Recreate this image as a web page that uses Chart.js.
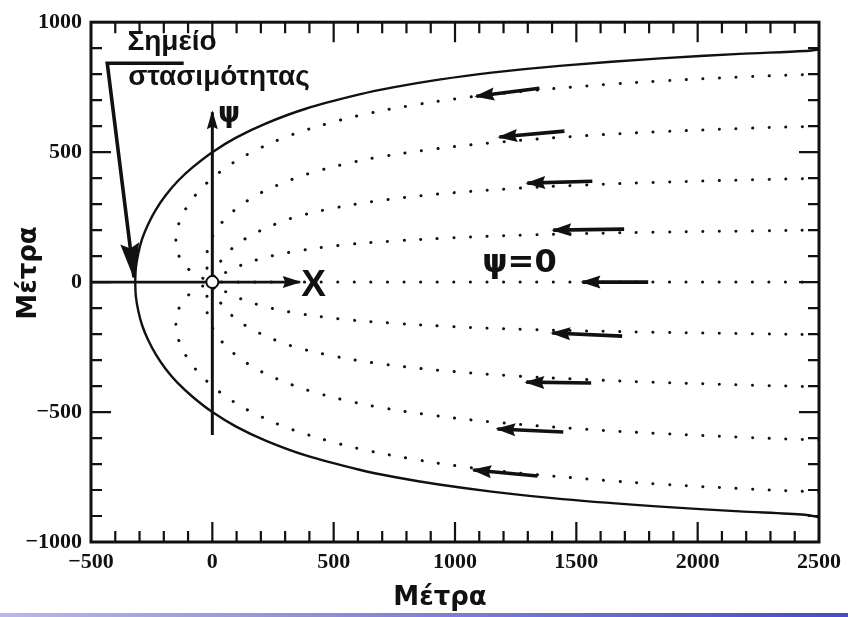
<!DOCTYPE html>
<html>
<head>
<meta charset="utf-8">
<script src="https://cdn.jsdelivr.net/npm/chart.js@4/dist/chart.umd.min.js"></script>
<style>
html,body{margin:0;padding:0;background:#fff;}
#wrap{position:relative;width:848px;height:617px;overflow:hidden;}
#footer{position:absolute;left:0;top:613px;width:848px;height:4px;background:linear-gradient(to right,#b8b8e8,#4a4ac4);}
</style>
</head>
<body>
<div id="wrap"><canvas id="c" width="848" height="617"></canvas><div id="footer"></div></div>
<script>
// ---------- tick labels ----------
const xTicks = [-500, 0, 500, 1000, 1500, 2000, 2500];
const yTicks = [-1000, -500, 0, 500, 1000];

// ---------- capture-zone boundary (solid) ----------
const boundUpX = [2500, 2442, 2173, 1847, 1443, 1151, 927, 750, 606, 385, 222, 98, 0, -78, -142, -193, -233, -265, -289, -305, -315, -318];
const boundUpY = [895, 889, 878, 861, 833, 806, 778, 750, 722, 667, 611, 556, 500, 444, 389, 333, 278, 222, 167, 111, 56, 0];
const boundLoX = [-318, -315, -305, -289, -265, -233, -193, -142, -78, 0, 98, 222, 385, 606, 750, 927, 1151, 1443, 1847, 2173, 2442, 2500];
const boundLoY = [0, -56, -111, -167, -222, -278, -333, -389, -444, -500, -556, -611, -667, -722, -750, -778, -806, -835, -864, -882, -895, -905];

// ---------- dotted streamlines (upper half) ----------
const s900X = [2500, 2167, 1871, 1632, 1270, 1008, 808, 650, 522, 327, 186, 80, 0, -61, -105, -135, -149, -146, -116, -83, -31, 0];
const s900Y = [800, 789, 775, 761, 733, 706, 678, 650, 622, 567, 511, 456, 400, 344, 289, 233, 178, 122, 67, 39, 11, 0];
const s675X = [2500, 2208, 1832, 1549, 1150, 880, 686, 540, 425, 333, 197, 104, 41, 0, -21, -23, -17, 0];
const s675Y = [600, 592, 578, 564, 536, 508, 481, 453, 425, 397, 342, 286, 231, 175, 119, 64, 36, 0];
const s450X = [2500, 2237, 1803, 1493, 1259, 931, 667, 491, 365, 272, 145, 67, 22, 0];
const s450Y = [399, 394, 383, 372, 361, 339, 311, 283, 256, 228, 172, 117, 61, 0];
const s225X = [2500, 2254, 1824, 1285, 961, 745, 529, 313, 185, 101, 44, 0];
const s225Y = [200, 197, 192, 181, 169, 158, 142, 114, 86, 58, 31, 0];
const s0X = [2500, 0];
const s0Y = [0, 0];
// ---------- dotted streamlines (lower half) ----------
const m225X = [2500, 2254, 1824, 1285, 961, 745, 529, 313, 185, 101, 44, 0];
const m225Y = [-203, -199, -193, -182, -170, -158, -142, -114, -86, -58, -31, 0];
const m450X = [2500, 2237, 1803, 1493, 1259, 931, 667, 491, 365, 272, 145, 67, 22, 0];
const m450Y = [-403, -397, -385, -373, -362, -339, -311, -283, -256, -228, -172, -117, -61, 0];
const m675X = [2500, 2208, 1832, 1549, 1150, 880, 686, 540, 425, 333, 197, 104, 41, 0, -21, -23, -17, 0];
const m675Y = [-608, -598, -582, -567, -538, -509, -481, -453, -425, -397, -342, -286, -231, -175, -119, -64, -36, 0];
const m900X = [2500, 2167, 1871, 1632, 1270, 1008, 808, 650, 522, 327, 186, 80, 0, -61, -105, -135, -149, -146, -116, -83, -31, 0];
const m900Y = [-808, -794, -779, -764, -735, -707, -678, -650, -622, -567, -511, -456, -400, -344, -289, -233, -178, -122, -67, -39, -11, 0];

// ---------- flow arrows (tail -> head) ----------
const arrowTailX = [1348, 1451, 1566, 1697, 1796, 1689, 1561, 1446, 1340];
const arrowTailY = [746, 581, 388, 204, 0, -208, -388, -577, -746];
const arrowHeadX = [1088, 1183, 1298, 1405, 1525, 1401, 1294, 1175, 1076];
const arrowHeadY = [715, 558, 381, 200, 0, -196, -385, -565, -723];

// ---------- axes of the local frame & pointer ----------
const psiAxisX = [0, 0];
const psiAxisY = [-588, 654];
const xAxisX = [-500, 360];
const xAxisY = [0, 0];
const pointerX = [-118, -433, -323];
const pointerY = [842, 842, 19];
const wellX = [0];
const wellY = [0];

// ---------- texts ----------
const noteLine1 = 'Σημείο';
const noteLine2 = 'στασιμότητας';
const psiZeroText = 'ψ=0';
const psiText = 'ψ';
const xText = 'X';
const axisTitle = 'Μέτρα';

const pts = (xs, ys) => xs.map((x, i) => ({x: x, y: ys[i]}));
const INK = '#111';

const dotted = (xs, ys) => ({
  data: pts(xs, ys), showLine: true, pointRadius: 0, borderColor: INK,
  borderWidth: 3, borderDash: [0.1, 16.5], borderCapStyle: 'round', tension: 0.35, fill: false
});
const solid = (xs, ys, w, head) => ({
  data: pts(xs, ys), showLine: true, pointRadius: 0, borderColor: INK,
  borderWidth: w, tension: 0, fill: false, arrowHead: head || null, borderCapStyle: 'butt', borderJoinStyle: 'miter'
});

const datasets = [];
datasets.push({data: pts(wellX, wellY), pointRadius: 6, pointBackgroundColor: '#fff', pointBorderColor: INK, pointBorderWidth: 2, showLine: false, order: -5});
datasets.push(Object.assign(solid(boundUpX, boundUpY, 2.4), {tension: 0.3}));
datasets.push(Object.assign(solid(boundLoX, boundLoY, 2.4), {tension: 0.3}));
[[s900X, s900Y], [s675X, s675Y], [s450X, s450Y], [s225X, s225Y], [s0X, s0Y],
 [m225X, m225Y], [m450X, m450Y], [m675X, m675Y], [m900X, m900Y]].forEach(p => datasets.push(dotted(p[0], p[1])));
arrowTailX.forEach((tx, i) => {
  datasets.push(solid([tx, arrowHeadX[i]], [arrowTailY[i], arrowHeadY[i]], 3.6, {len: 18, half: 6.5}));
});
datasets.push(solid(psiAxisX, psiAxisY, 3, {len: 17, half: 5.5}));
datasets.push(solid(xAxisX, xAxisY, 2.8, {len: 17, half: 6}));
datasets.push(solid(pointerX, pointerY, 3.6, {len: 34, half: 9.5}));

const fmt = v => (v < 0 ? '\u2212' + Math.abs(v) : String(v));
const tickFont = {family: "'Liberation Serif', serif", size: 22, weight: 'bold'};

const arrowPlugin = {
  id: 'arrowheads',
  afterDatasetsDraw(chart) {
    const ctx = chart.ctx;
    chart.data.datasets.forEach((ds, i) => {
      if (!ds.arrowHead) return;
      const el = chart.getDatasetMeta(i).data;
      const a = el[el.length - 2], b = el[el.length - 1];
      const ang = Math.atan2(b.y - a.y, b.x - a.x);
      const L = ds.arrowHead.len, W = ds.arrowHead.half;
      ctx.save();
      ctx.translate(b.x, b.y);
      ctx.rotate(ang);
      ctx.beginPath();
      ctx.moveTo(2, 0);
      ctx.lineTo(-L, -W);
      ctx.lineTo(-L * 0.85, 0);
      ctx.lineTo(-L, W);
      ctx.closePath();
      ctx.fillStyle = INK;
      ctx.fill();
      ctx.restore();
    });
  }
};

const framePlugin = {
  id: 'frame',
  afterDraw(chart) {
    const ctx = chart.ctx, a = chart.chartArea, sx = chart.scales.x, sy = chart.scales.y;
    ctx.save();
    ctx.strokeStyle = INK;
    ctx.lineWidth = 2.2;
    for (let v = -400; v < 2500; v += 100) {
      const px = sx.getPixelForValue(v);
      const len = v % 500 === 0 ? 20 : 11;
      ctx.beginPath();
      ctx.moveTo(px, a.bottom); ctx.lineTo(px, a.bottom - len);
      ctx.moveTo(px, a.top); ctx.lineTo(px, a.top + len);
      ctx.stroke();
    }
    for (let v = -900; v < 1000; v += 100) {
      const py = sy.getPixelForValue(v);
      const len = v % 500 === 0 ? 20 : 11;
      ctx.beginPath();
      ctx.moveTo(a.left, py); ctx.lineTo(a.left + len, py);
      ctx.moveTo(a.right, py); ctx.lineTo(a.right - len, py);
      ctx.stroke();
    }
    ctx.lineWidth = 3;
    ctx.strokeRect(a.left, a.top, a.right - a.left, a.bottom - a.top);

    // annotation texts placed in data coordinates
    const put = (txt, x, y, font) => {
      ctx.font = font;
      ctx.fillStyle = INK;
      ctx.textAlign = 'left';
      ctx.textBaseline = 'alphabetic';
      ctx.fillText(txt, sx.getPixelForValue(x), sy.getPixelForValue(y));
    };
    put(noteLine1, -350, 892, "bold 28px 'Liberation Sans', sans-serif");
    put(noteLine2, -347, 758, "bold 28px 'Liberation Sans', sans-serif");
    put(psiZeroText, 1112, 38, "bold 32px 'DejaVu Sans', sans-serif");
    put(psiText, 23, 615, "bold 28px 'DejaVu Sans', sans-serif");
    put(xText, 366, -52, "bold 37px 'Liberation Sans', sans-serif");

    // axis titles
    ctx.font = "bold 26px 'DejaVu Sans', sans-serif";
    ctx.textAlign = 'center';
    ctx.textBaseline = 'alphabetic';
    ctx.fillText(axisTitle, 440, 605);
    ctx.translate(36, 273);
    ctx.rotate(-Math.PI / 2);
    ctx.fillText(axisTitle, 0, 0);
    ctx.restore();
  }
};

new Chart(document.getElementById('c'), {
  type: 'scatter',
  data: {datasets: datasets},
  options: {
    responsive: false,
    animation: false,
    events: [],
    layout: {padding: {left: 0, top: 22, right: 28, bottom: 0}},
    plugins: {legend: {display: false}, tooltip: {enabled: false}},
    scales: {
      x: {
        type: 'linear', min: -500, max: 2500,
        afterBuildTicks: s => { s.ticks = xTicks.map(v => ({value: v})); },
        afterFit: s => { s.height = 75; },
        grid: {display: false, drawTicks: false},
        border: {display: false},
        ticks: {font: tickFont, color: INK, padding: 7, maxRotation: 0, autoSkip: false, callback: fmt}
      },
      y: {
        type: 'linear', min: -1000, max: 1000,
        afterBuildTicks: s => { s.ticks = yTicks.map(v => ({value: v})); },
        afterFit: s => { s.width = 91; },
        grid: {display: false, drawTicks: false},
        border: {display: false},
        ticks: {font: tickFont, color: INK, padding: 9, autoSkip: false, callback: fmt}
      }
    }
  },
  plugins: [arrowPlugin, framePlugin]
});
</script>
</body>
</html>
